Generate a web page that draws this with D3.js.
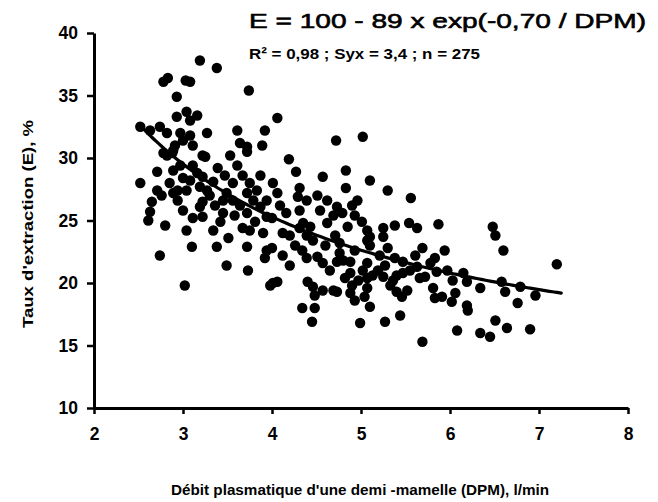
<!DOCTYPE html>
<html>
<head>
<meta charset="utf-8">
<script src="https://cdn.jsdelivr.net/npm/d3@7"></script>
<style>
  html, body { margin: 0; padding: 0; background: #fff; }
  svg { display: block; }
  text { font-family: "Liberation Sans", Arial, sans-serif; fill: #000; }
</style>
</head>
<body>
<svg id="chart" width="658" height="502"></svg>
<script>
// ---- Data ----
const dpm = [
  3.19,3.38,2.78,2.83,3.03,3.08,3.74,2.93,2.93,3.04,3.16,3.08,4.06,2.52,2.63,2.74,2.82,2.97,3.08,3.27,
  3.61,3.92,3.64,3.72,3.89,2.78,3.22,3.53,2.82,2.88,3.25,3.72,2.71,2.89,3.11,3.16,3.08,3.22,3.34,3.19,
  3.39,3.61,3.67,3.75,2.52,2.71,2.85,2.89,3.04,3.49,3.56,3.45,3.72,3.79,3.94,4.01,2.65,2.63,3.22,3.00,
  3.45,3.72,3.87,3.94,2.61,2.80,3.11,3.22,3.04,3.34,3.51,3.67,3.75,3.90,3.10,3.38,3.72,3.94,3.92,2.74,
  3.49,3.73,3.02,4.01,4.72,5.02,4.19,4.27,4.57,4.83,5.10,5.30,5.56,4.83,4.06,4.31,4.29,4.39,4.51,4.62,
  4.96,4.90,4.73,4.79,4.69,4.16,4.00,4.35,4.43,4.31,4.62,4.85,5.01,5.07,5.25,5.38,5.54,5.63,5.87,4.12,
  4.20,4.71,5.10,5.25,4.39,4.46,4.76,5.07,5.10,5.30,5.69,5.94,4.00,4.12,4.34,4.39,4.51,4.57,4.76,4.80,
  4.73,4.88,5.07,5.02,5.47,5.55,5.63,5.78,5.85,5.97,6.15,4.06,3.98,4.40,4.46,4.48,4.57,4.69,4.73,4.88,
  4.90,4.88,4.93,4.97,5.07,5.13,5.19,5.07,5.04,5.25,5.36,5.40,5.47,5.40,5.46,5.52,5.33,5.66,5.72,5.81,
  5.83,5.91,6.03,6.06,6.02,6.19,4.34,4.48,4.45,4.99,5.10,5.27,5.44,5.69,6.08,6.48,6.51,6.60,7.20,6.19,
  6.34,6.20,6.58,6.62,6.79,6.76,6.96,6.51,6.64,6.90,6.34,6.45,3.00,3.11,2.91,2.97,3.27,3.56,3.83,3.64,
  3.36,2.94,2.76,2.89,3.00,2.94,3.19,4.60,4.93,5.21,5.38,4.65,4.82,4.20,4.26,5.61,5.83,3.42,3.58,3.81,
  3.30,3.47,3.87,4.09,4.54,4.93,4.31,5.27
];
const extraction = [
  37.8,37.2,36.1,36.4,36.2,36.1,35.4,34.9,33.3,33.7,33.4,33.0,33.2,32.5,32.2,32.5,32.0,32.0,31.8,32.0,
  32.2,32.2,31.2,30.9,31.0,30.4,30.2,30.2,30.2,30.4,30.1,30.5,28.9,29.0,29.4,28.8,28.2,28.5,28.1,27.7,
  29.2,29.4,28.6,28.0,28.0,27.4,28.0,27.2,27.4,27.2,26.6,26.6,27.2,26.6,26.6,28.0,26.5,25.7,26.5,25.8,
  25.6,25.6,26.1,25.3,25.0,24.6,25.2,25.3,24.2,24.2,23.6,24.4,24.2,24.0,22.9,22.9,22.9,22.6,22.0,22.2,
  21.4,21.0,19.8,20.0,31.4,31.7,29.9,28.9,28.5,29.0,28.2,27.4,26.8,27.6,27.2,27.6,26.9,26.6,27.0,26.6,
  26.6,26.2,26.1,25.6,25.4,25.6,25.2,24.8,24.5,24.4,24.8,24.5,24.9,24.2,24.4,24.6,24.8,24.4,24.7,24.0,
  23.8,23.8,23.7,23.7,23.8,23.4,23.2,23.4,23.0,22.8,22.8,22.6,22.8,22.2,22.6,22.0,22.1,21.6,22.4,21.8,
  21.7,21.7,21.6,21.0,21.7,21.0,21.3,21.6,20.9,21.0,20.8,20.1,19.8,20.1,19.7,19.0,19.4,19.4,19.3,20.8,
  19.8,19.2,18.6,20.2,20.4,20.6,21.0,19.6,18.9,20.5,20.2,20.6,20.8,19.3,18.9,19.4,19.8,20.4,20.5,19.6,
  18.8,18.9,20.2,19.2,18.5,18.2,18.0,18.0,16.9,16.8,18.1,16.9,17.4,15.3,16.2,24.5,23.8,22.6,21.5,20.1,
  19.6,17.8,20.1,19.3,19.7,18.4,19.0,17.0,16.4,16.3,16.0,15.7,31.4,31.0,31.0,29.4,27.4,28.0,27.4,26.2,
  26.2,26.6,27.0,30.6,28.4,27.4,26.1,23.0,22.6,22.2,22.0,21.0,20.4,21.4,23.0,22.2,22.0,24.9,25.4,24.9,
  27.0,28.6,28.6,26.2,25.8,25.4,25.8,21.4
];
const xTicks = [2, 3, 4, 5, 6, 7, 8];
const yTicks = [10, 15, 20, 25, 30, 35, 40];
// Fitted model E = A - B * exp(-C / DPM), drawn over the observed DPM range
const fitA = 100, fitB = 89, fitC = 0.70;
const fitRange = [2.5, 7.25];
const titleLine1 = "E = 100 - 89 x exp(-0,70 / DPM)";
const titleLine2 = "R\u00B2 = 0,98 ; Syx = 3,4 ; n = 275";
const xLabel = "D\u00E9bit plasmatique d'une demi -mamelle (DPM), l/min";
const yLabel = "Taux d'extraction (E), %";

// ---- Drawing ----
const svg = d3.select("#chart");
const x = d3.scaleLinear().domain([2, 8]).range([94, 628]);
const y = d3.scaleLinear().domain([10, 40]).range([408, 33]);

// points
svg.append("g").selectAll("circle")
  .data(dpm.map((d, i) => [d, extraction[i]]))
  .join("circle")
  .attr("cx", d => x(d[0]))
  .attr("cy", d => y(d[1]))
  .attr("r", 5.2)
  .attr("fill", "#000");

// fitted curve
const curvePts = d3.range(fitRange[0], fitRange[1] + 0.001, 0.05)
  .map(v => [v, fitA - fitB * Math.exp(-fitC / v)]);
svg.append("path")
  .datum(curvePts)
  .attr("fill", "none")
  .attr("stroke", "#000")
  .attr("stroke-width", 3.2)
  .attr("stroke-linecap", "round")
  .attr("d", d3.line().x(d => x(d[0])).y(d => y(d[1])).curve(d3.curveMonotoneX));

// axes
const xAxis = svg.append("g")
  .attr("transform", `translate(0,${y(10)})`)
  .call(d3.axisBottom(x).tickValues(xTicks).tickFormat(d3.format("d"))
    .tickSize(6).tickSizeOuter(0).tickPadding(14));
const yAxis = svg.append("g")
  .attr("transform", `translate(${x(2)},0)`)
  .call(d3.axisLeft(y).tickValues(yTicks).tickFormat(d3.format("d"))
    .tickSize(7).tickSizeOuter(0).tickPadding(9));

[xAxis, yAxis].forEach(g => {
  g.select(".domain").attr("stroke", "#000").attr("stroke-width", 3);
  g.selectAll(".tick line").attr("stroke", "#000").attr("stroke-width", 2.5);
  g.selectAll(".tick text")
    .attr("font-family", "'Liberation Sans', Arial, sans-serif")
    .attr("font-size", 17.5)
    .attr("font-weight", "bold")
    .attr("fill", "#000");
});

// titles
svg.append("text")
  .attr("x", 249).attr("y", 28)
  .attr("font-size", 21)
  .attr("stroke", "#000").attr("stroke-width", 0.6)
  .attr("textLength", 397).attr("lengthAdjust", "spacingAndGlyphs")
  .text(titleLine1);
svg.append("text")
  .attr("x", 249).attr("y", 59)
  .attr("font-size", 15.5)
  .attr("font-weight", "bold")
  .attr("textLength", 231).attr("lengthAdjust", "spacingAndGlyphs")
  .text(titleLine2);

svg.append("text")
  .attr("x", 360).attr("y", 495)
  .attr("text-anchor", "middle")
  .attr("font-size", 14.5)
  .attr("font-weight", "bold")
  .attr("textLength", 378).attr("lengthAdjust", "spacingAndGlyphs")
  .text(xLabel);

svg.append("text")
  .attr("transform", "translate(33,224) rotate(-90)")
  .attr("text-anchor", "middle")
  .attr("font-size", 14.5)
  .attr("font-weight", "bold")
  .attr("textLength", 208).attr("lengthAdjust", "spacingAndGlyphs")
  .text(yLabel);
</script>
</body>
</html>
